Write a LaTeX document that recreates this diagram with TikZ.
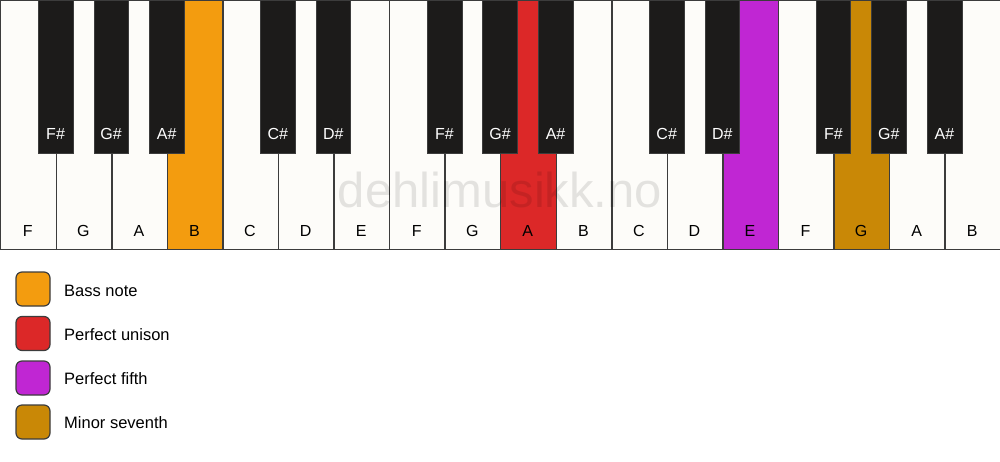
\documentclass[tikz,border=0pt]{standalone}
\usepackage{fontspec}
\setmainfont{Liberation Sans}
\usepackage{tikz}

\definecolor{keywhite}{HTML}{FDFCF9}
\definecolor{keyblack}{HTML}{1C1B1A}
\definecolor{keyline}{HTML}{3C3C3C}
\definecolor{bassnote}{HTML}{F39C0F}
\definecolor{unison}{HTML}{DC2828}
\definecolor{fifth}{HTML}{C026D3}
\definecolor{seventh}{HTML}{C98806}

\tikzset{
  whitekey/.style={draw=keyline, line width=1.4pt, fill=keywhite, inner sep=0pt,
    minimum width=55.56pt, minimum height=249pt, anchor=north west},
  blackkey/.style={draw=keyline, line width=0.5pt, fill=keyblack, inner sep=0pt,
    minimum width=34.7pt, minimum height=153pt, anchor=north},
  whitename/.style={anchor=base, inner sep=0pt, font=\fontsize{16}{19}\selectfont},
  blackname/.style={whitename, text=white},
  legendbox/.style={draw=keyline, line width=1.2pt, rounded corners=6pt,
    minimum size=34pt, inner sep=0pt},
  legendtext/.style={anchor=base west, inner sep=0pt, font=\fontsize{16.5}{19}\selectfont}
}

\begin{document}
\begin{tikzpicture}[x=1pt,y=-1pt]
    \useasboundingbox (0,0) rectangle (1000,461);

    % white keys
    \node (wF1) at (0,0) [whitekey] {};
    \node (wG1) at (55.56,0) [whitekey] {};
    \node (wA1) at (111.11,0) [whitekey] {};
    \node (wB1) at (166.67,0) [whitekey, fill=bassnote] {};
    \node (wC1) at (222.22,0) [whitekey] {};
    \node (wD1) at (277.78,0) [whitekey] {};
    \node (wE1) at (333.33,0) [whitekey] {};
    \node (wF2) at (388.89,0) [whitekey] {};
    \node (wG2) at (444.44,0) [whitekey] {};
    \node (wA2) at (500,0) [whitekey, fill=unison] {};
    \node (wB2) at (555.56,0) [whitekey] {};
    \node (wC2) at (611.11,0) [whitekey] {};
    \node (wD2) at (666.67,0) [whitekey] {};
    \node (wE2) at (722.22,0) [whitekey, fill=fifth] {};
    \node (wF3) at (777.78,0) [whitekey] {};
    \node (wG3) at (833.33,0) [whitekey, fill=seventh] {};
    \node (wA3) at (888.89,0) [whitekey] {};
    \node (wB3) at (944.44,0) [whitekey] {};

    \node (tF1) at (27.78,236) [whitename] {F};
    \node (tG1) at (83.33,236) [whitename] {G};
    \node (tA1) at (138.89,236) [whitename] {A};
    \node (tB1) at (194.44,236) [whitename] {B};
    \node (tC1) at (250,236) [whitename] {C};
    \node (tD1) at (305.56,236) [whitename] {D};
    \node (tE1) at (361.11,236) [whitename] {E};
    \node (tF2) at (416.67,236) [whitename] {F};
    \node (tG2) at (472.22,236) [whitename] {G};
    \node (tA2) at (527.78,236) [whitename] {A};
    \node (tB2) at (583.33,236) [whitename] {B};
    \node (tC2) at (638.89,236) [whitename] {C};
    \node (tD2) at (694.44,236) [whitename] {D};
    \node (tE2) at (750,236) [whitename] {E};
    \node (tF3) at (805.56,236) [whitename] {F};
    \node (tG3) at (861.11,236) [whitename] {G};
    \node (tA3) at (916.67,236) [whitename] {A};
    \node (tB3) at (972.22,236) [whitename] {B};

    % black keys
    \node (bFs1) at (55.56,0) [blackkey] {};
    \node (bGs1) at (111.11,0) [blackkey] {};
    \node (bAs1) at (166.67,0) [blackkey] {};
    \node (bCs1) at (277.78,0) [blackkey] {};
    \node (bDs1) at (333.33,0) [blackkey] {};
    \node (bFs2) at (444.44,0) [blackkey] {};
    \node (bGs2) at (500,0) [blackkey] {};
    \node (bAs2) at (555.56,0) [blackkey] {};
    \node (bCs2) at (666.67,0) [blackkey] {};
    \node (bDs2) at (722.22,0) [blackkey] {};
    \node (bFs3) at (833.33,0) [blackkey] {};
    \node (bGs3) at (888.89,0) [blackkey] {};
    \node (bAs3) at (944.44,0) [blackkey] {};

    \node (sFs1) at (55.56,139) [blackname] {F\#};
    \node (sGs1) at (111.11,139) [blackname] {G\#};
    \node (sAs1) at (166.67,139) [blackname] {A\#};
    \node (sCs1) at (277.78,139) [blackname] {C\#};
    \node (sDs1) at (333.33,139) [blackname] {D\#};
    \node (sFs2) at (444.44,139) [blackname] {F\#};
    \node (sGs2) at (500,139) [blackname] {G\#};
    \node (sAs2) at (555.56,139) [blackname] {A\#};
    \node (sCs2) at (666.67,139) [blackname] {C\#};
    \node (sDs2) at (722.22,139) [blackname] {D\#};
    \node (sFs3) at (833.33,139) [blackname] {F\#};
    \node (sGs3) at (888.89,139) [blackname] {G\#};
    \node (sAs3) at (944.44,139) [blackname] {A\#};

    % watermark
    \node (mark) at (500,207) [anchor=base, inner sep=0pt, text opacity=0.1,
      font=\fontsize{49}{52}\selectfont] {dehlimusikk.no};

    % legend
    \node (boxB) at (33,289) [legendbox, fill=bassnote] {};
    \node (boxU) at (33,333.5) [legendbox, fill=unison] {};
    \node (boxF) at (33,378) [legendbox, fill=fifth] {};
    \node (boxS) at (33,422) [legendbox, fill=seventh] {};

    \node (labB) at (64,296) [legendtext] {Bass note};
    \node (labU) at (64,340.5) [legendtext] {Perfect unison};
    \node (labF) at (64,384.5) [legendtext] {Perfect fifth};
    \node (labS) at (64,428.5) [legendtext] {Minor seventh};
\end{tikzpicture}
\end{document}
